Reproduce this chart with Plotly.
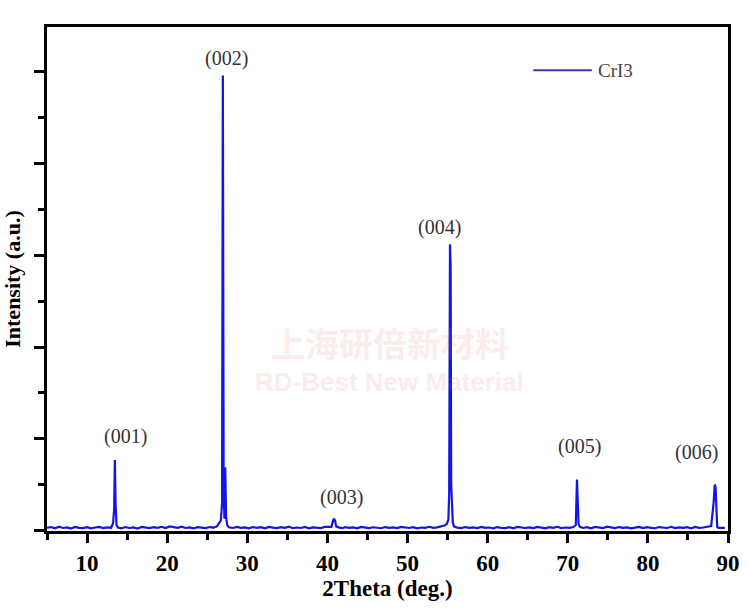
import plotly.graph_objects as go

# ---- data (2Theta in degrees, intensity in a.u.) ----
two_theta = [
    5.0, 5.5, 6.0, 6.5, 7.0, 7.5, 8.0, 8.5, 9.0, 9.5, 10.0, 10.5, 11.0, 11.5, 12.0, 12.5,
    13.0, 13.25, 13.38, 13.47, 13.56, 13.68, 13.85, 14.3, 14.8, 15.3, 15.8, 16.3, 16.8,
    17.3, 17.8, 18.3, 18.8, 19.3, 19.8, 20.3, 20.8, 21.3, 21.8, 22.3, 22.8, 23.3, 23.8,
    24.3, 24.8, 25.3, 25.8, 26.2, 26.5, 26.7, 26.85, 26.95, 27.05, 27.15, 27.25, 27.35,
    27.5, 27.7, 28.2, 28.7, 29.2, 29.7, 30.2, 30.7, 31.2, 31.7, 32.2, 32.7, 33.2, 33.7,
    34.2, 34.7, 35.2, 35.7, 36.2, 36.7, 37.2, 37.7, 38.2, 38.7, 39.2, 39.7, 40.5, 40.65,
    40.8, 40.95, 41.1, 41.5, 41.9, 42.2, 42.7, 43.2, 43.7, 44.2, 44.7, 45.2, 45.7, 46.2,
    46.7, 47.2, 47.7, 48.2, 48.7, 49.2, 49.7, 50.2, 50.7, 51.2, 51.7, 52.2, 52.7, 53.2,
    53.7, 54.2, 54.6, 54.9, 55.1, 55.2, 55.3, 55.38, 55.45, 55.55, 55.65, 55.8, 56.2,
    56.7, 57.2, 57.7, 58.2, 58.7, 59.2, 59.7, 60.2, 60.7, 61.2, 61.7, 62.2, 62.7, 63.2,
    63.7, 64.2, 64.7, 65.2, 65.7, 66.2, 66.7, 67.2, 67.7, 68.2, 68.7, 69.2, 69.7, 70.2,
    70.7, 71.0, 71.15, 71.25, 71.35, 71.5, 71.9, 72.4, 72.9, 73.4, 73.9, 74.4, 74.9,
    75.4, 75.9, 76.4, 76.9, 77.4, 77.9, 78.4, 78.9, 79.4, 79.9, 80.4, 80.9, 81.4, 81.9,
    82.4, 82.9, 83.4, 83.9, 84.4, 84.9, 85.4, 85.9, 86.4, 86.9, 87.4, 87.9, 88.2, 88.35,
    88.45, 88.55, 88.65, 88.8, 89.2, 89.6, 90.0,
]
intensity = [
    30, 38, 25, 42, 28, 35, 22, 40, 30, 26, 36, 24, 33, 40, 27, 35,
    30, 80, 230, 770, 300, 60, 32, 25, 38, 28, 34, 22, 40,
    30, 26, 36, 29, 41, 27, 45, 38, 30, 42, 28, 35, 24, 37,
    30, 26, 38, 32, 45, 90, 110, 300, 4960, 400, 130, 690, 150,
    60, 35, 28, 40, 30, 35, 25, 38, 29, 36, 24, 40, 31, 27,
    37, 30, 42, 26, 33, 28, 39, 24, 35, 30, 27, 41, 40, 90,
    130, 110, 45, 32, 26, 38, 29, 35, 24, 40, 30, 27, 36, 31,
    25, 38, 29, 34, 26, 40, 30, 28, 37, 24, 33, 29, 41, 30,
    35, 42, 55, 70, 120, 400, 3120, 2900, 500, 180, 90, 45, 32,
    26, 38, 30, 35, 27, 40, 29, 33, 24, 38, 30, 27, 36, 25,
    40, 31, 28, 35, 26, 39, 30, 24, 37, 29, 41, 27, 33, 30,
    38, 60, 555, 200, 70, 40, 28, 36, 25, 39, 30, 27, 42,
    33, 26, 38, 29, 35, 24, 31, 40, 27, 36, 30, 25, 38,
    32, 28, 41, 26, 34, 30, 37, 25, 39, 29, 33, 45, 50, 300,
    500, 470, 120, 40, 30, 26, 28,
]

peak_labels = ["(001)", "(002)", "(003)", "(004)", "(005)", "(006)"]
label_x = [14.8, 27.4, 41.8, 54.0, 71.5, 86.1]
label_y = [1030, 5150, 360, 3300, 920, 850]

x_ticks = [10, 20, 30, 40, 50, 60, 70, 80, 90]
series_name = "CrI3"

LINE_BLUE = "#1414e6"
SERIF = "Liberation Serif, Times New Roman, serif"

fig = go.Figure()
fig.add_trace(go.Scatter(
    x=two_theta, y=intensity, mode="lines", name=series_name,
    line=dict(color=LINE_BLUE, width=2.2), showlegend=False,
))

for txt, lx, ly in zip(peak_labels, label_x, label_y):
    fig.add_annotation(x=lx, y=ly, text=txt, showarrow=False,
                       font=dict(family=SERIF, size=20, color="#333333"),
                       xanchor="center", yanchor="middle")

# legend drawn manually (long sample line as in the reference)
fig.add_shape(type="line", xref="paper", yref="paper",
              x0=0.714, x1=0.800, y0=0.914, y1=0.914,
              line=dict(color="#3a3ab0", width=2))
fig.add_annotation(xref="paper", yref="paper", x=0.806, y=0.914, text=series_name,
                   showarrow=False, xanchor="left", yanchor="middle",
                   font=dict(family=SERIF, size=19, color="#444444"))

# faint watermark
fig.add_annotation(xref="paper", yref="paper", x=0.503, y=0.374, text="<b>上海研倍新材料</b>",
                   showarrow=False, font=dict(family="Noto Sans CJK SC", size=34, color="rgba(235,110,110,0.15)"))
fig.add_annotation(xref="paper", yref="paper", x=0.503, y=0.262, text="<b>RD-Best New Material</b>",
                   showarrow=False, font=dict(family="Liberation Sans, Arial", size=26, color="rgba(235,110,110,0.15)"))

fig.update_xaxes(
    range=[5, 90], tickvals=x_ticks, ticks="outside", ticklen=9, tickwidth=2.5,
    tickcolor="black", showline=True, linewidth=3, linecolor="black", mirror=True,
    showgrid=False, zeroline=False, automargin=False,
    tickfont=dict(family=SERIF, size=23, color="black", weight="bold"),
    minor=dict(dtick=5, tick0=0, ticks="outside", ticklen=6, tickwidth=2.5, tickcolor="black"),
    title=dict(text="<b>2Theta (deg.)</b>", font=dict(family=SERIF, size=23, color="black"), standoff=6),
)
fig.update_yaxes(
    range=[-5, 5490], dtick=1000, tick0=0, ticks="outside", ticklen=10, tickwidth=2.5,
    tickcolor="black", showticklabels=False, showline=True, linewidth=3, linecolor="black",
    mirror=True, showgrid=False, zeroline=False, automargin=False,
    minor=dict(dtick=500, tick0=0, ticks="outside", ticklen=6, tickwidth=2.5, tickcolor="black"),
    title=dict(text="<b>Intensity (a.u.)</b>", font=dict(family=SERIF, size=22, color="black"), standoff=10),
)

fig.update_layout(
    width=750, height=610, paper_bgcolor="white", plot_bgcolor="white",
    margin=dict(l=47, r=22, t=27, b=79),
)

fig.write_html("out.html", config={"displayModeBar": False},
               post_script="document.body.style.margin='0px';")
